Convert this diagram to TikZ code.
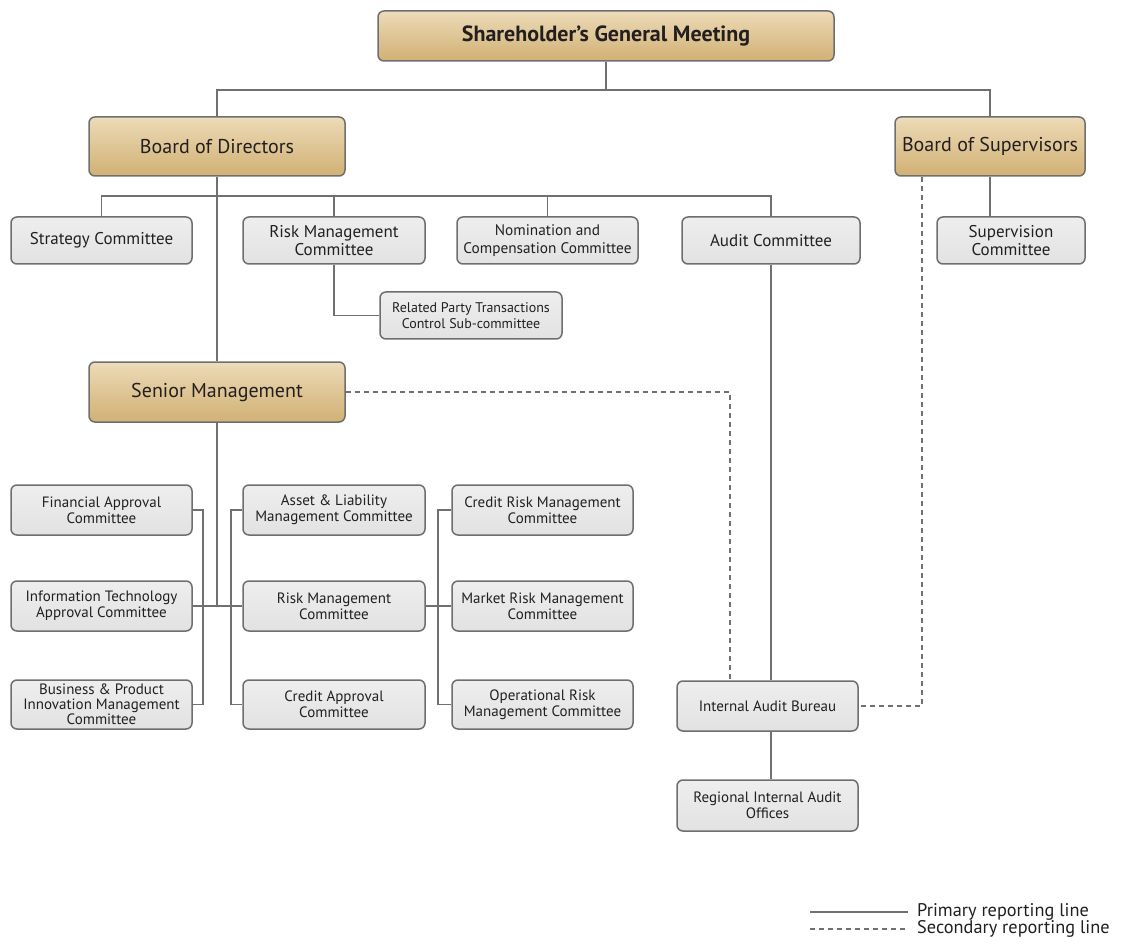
\documentclass[tikz,border=0pt]{standalone}
\usepackage{fontspec}
\setmainfont{PT Sans}
\definecolor{goldbase}{RGB}{210,179,120}
\definecolor{goldmid}{RGB}{234,214,176}
\definecolor{boxtop}{RGB}{244,244,244}
\definecolor{boxbot}{RGB}{220,220,220}
\definecolor{frame}{RGB}{110,110,110}
\definecolor{wire}{RGB}{112,112,112}
\definecolor{ink}{RGB}{35,31,32}
\pgfdeclareverticalshading{goldshade}{100bp}{color(0bp)=(goldbase); color(28bp)=(goldbase); color(70bp)=(goldmid); color(100bp)=(white)}
\pgfdeclareverticalshading{grayshade}{100bp}{color(0bp)=(boxbot); color(100bp)=(boxtop)}
\tikzset{
  base/.style={draw=frame, line width=1.5pt, rounded corners=6pt, inner sep=0pt,
    align=center, text=ink},
  headbox/.style={base, shading=goldshade, font=\fontsize{20}{22}\selectfont},
  combox/.style={base, shading=grayshade, font=\fontsize{17}{17.5}\selectfont},
  subbox/.style={base, shading=grayshade, font=\fontsize{15}{16}\selectfont},
  wire/.style={draw=wire, line width=1.2pt},
  dashwire/.style={draw=wire, line width=1.2pt, dash pattern=on 5pt off 4pt},
}
\begin{document}
\begin{tikzpicture}[x=1pt, y=-1pt]
\useasboundingbox (0,0) rectangle (1121,949);

% helper coordinates for buses and brackets
\coordinate (busTop) at (0,90);
\coordinate (busBoard) at (0,196);
\coordinate (dashMid) at (730,0);
\coordinate (dashRight) at (922,0);
\coordinate (bkL) at (203,0);
\coordinate (bkM) at (231,0);
\coordinate (bkR) at (438,0);

% governance bodies
\node[headbox, minimum width=456pt, minimum height=50pt, font=\fontsize{22}{23}\selectfont\bfseries] (sgm) at (606,36) {Shareholder's General Meeting};
\node[headbox, minimum width=256pt, minimum height=59pt] (bod) at (217,146.5) {Board of Directors};
\node[headbox, minimum width=190pt, minimum height=59pt] (bos) at (990,146.5) {Board of Supervisors};
\node[headbox, minimum width=256pt, minimum height=60pt] (sm) at (217,392) {Senior Management};

% board committees
\node[combox, minimum width=181pt, minimum height=47pt] (strat) at (101.5,240.5) {Strategy Committee};
\node[combox, minimum width=182pt, minimum height=47pt] (rmc) at (334,240.5) {Risk Management\\Committee};
\node[combox, minimum width=181pt, minimum height=47pt, font=\fontsize{15.3}{17.5}\selectfont] (nom) at (547.5,240.5) {Nomination and\\Compensation Committee};
\node[combox, minimum width=178pt, minimum height=47pt] (aud) at (771,240.5) {Audit Committee};
\node[combox, minimum width=148pt, minimum height=47pt] (sup) at (1011,240.5) {Supervision\\Committee};
\node[subbox, minimum width=182pt, minimum height=47pt, font=\fontsize{14}{15.5}\selectfont] (rpt) at (471,315.5) {Related Party Transactions\\Control Sub-committee};

% management committees
\node[subbox, minimum width=181pt, minimum height=50pt] (fa) at (101.5,510) {Financial Approval\\Committee};
\node[subbox, minimum width=181pt, minimum height=50pt] (it) at (101.5,606) {Information Technology\\Approval Committee};
\node[subbox, minimum width=181pt, minimum height=49pt, font=\fontsize{15}{15}\selectfont] (bp) at (101.5,704.5) {Business \& Product\\Innovation Management\\Committee};
\node[subbox, minimum width=182pt, minimum height=50pt] (al) at (334,510) {Asset \& Liability\\Management Committee};
\node[subbox, minimum width=182pt, minimum height=50pt] (rm2) at (334,606) {Risk Management\\Committee};
\node[subbox, minimum width=182pt, minimum height=49pt] (ca) at (334,704.5) {Credit Approval\\Committee};
\node[subbox, minimum width=181pt, minimum height=50pt] (cr) at (542.5,510) {Credit Risk Management\\Committee};
\node[subbox, minimum width=181pt, minimum height=50pt] (mr) at (542.5,606) {Market Risk Management\\Committee};
\node[subbox, minimum width=181pt, minimum height=49pt] (op) at (542.5,704.5) {Operational Risk\\Management Committee};

% internal audit
\node[subbox, minimum width=181pt, minimum height=50pt] (iab) at (767.5,706) {Internal Audit Bureau};
\node[subbox, minimum width=181pt, minimum height=51pt] (reg) at (767.5,805.5) {Regional Internal Audit\\Offices};

% primary reporting lines
\draw[wire] (sgm.south) -- (sgm.south |- busTop);
\draw[wire] (bod.north) |- (bos.north |- busTop) -- (bos.north);
\draw[wire] (bod.south) -- (sm.north);
\draw[wire] (strat.north) |- (aud.north |- busBoard) -- (aud.north);
\draw[wire] (rmc.north) -- (rmc.north |- busBoard);
\draw[wire] (nom.north) -- (nom.north |- busBoard);
\draw[wire] (rmc.south) |- (rpt.west);
\draw[wire] (bos.south) -- (bos.south |- sup.north);
\draw[wire] (aud.south) -- (aud.south |- iab.north);
\draw[wire] (aud.south |- iab.south) -- (aud.south |- reg.north);

\draw[wire] (sm.south) -- (sm.south |- it.east);
\draw[wire] (it.east) -- (rm2.west);
\draw[wire] (rm2.east) -- (mr.west);
\draw[wire] (fa.east) -- (fa.east -| bkL) -- (bp.east -| bkL) -- (bp.east);
\draw[wire] (al.west) -- (al.west -| bkM) -- (ca.west -| bkM) -- (ca.west);
\draw[wire] (cr.west) -- (cr.west -| bkR) -- (op.west -| bkR) -- (op.west);

% secondary reporting lines
\draw[dashwire] (sm.east) -| (iab.north -| dashMid);
\draw[dashwire] (bos.south -| dashRight) |- (iab.east);

% legend
\coordinate (legA1) at (810,912);
\coordinate (legA2) at (908,912);
\coordinate (legB1) at (810,929);
\coordinate (legB2) at (908,929);
\draw[wire] (legA1) -- (legA2);
\draw[dashwire] (legB1) -- (legB2);
\node[anchor=west, inner sep=0pt, text=ink, font=\fontsize{18.3}{19}\selectfont] (legPrim) at (917,912) {Primary reporting line};
\node[anchor=west, inner sep=0pt, text=ink, font=\fontsize{18.3}{19}\selectfont] (legSec) at (917,929) {Secondary reporting line};
\end{tikzpicture}
\end{document}
